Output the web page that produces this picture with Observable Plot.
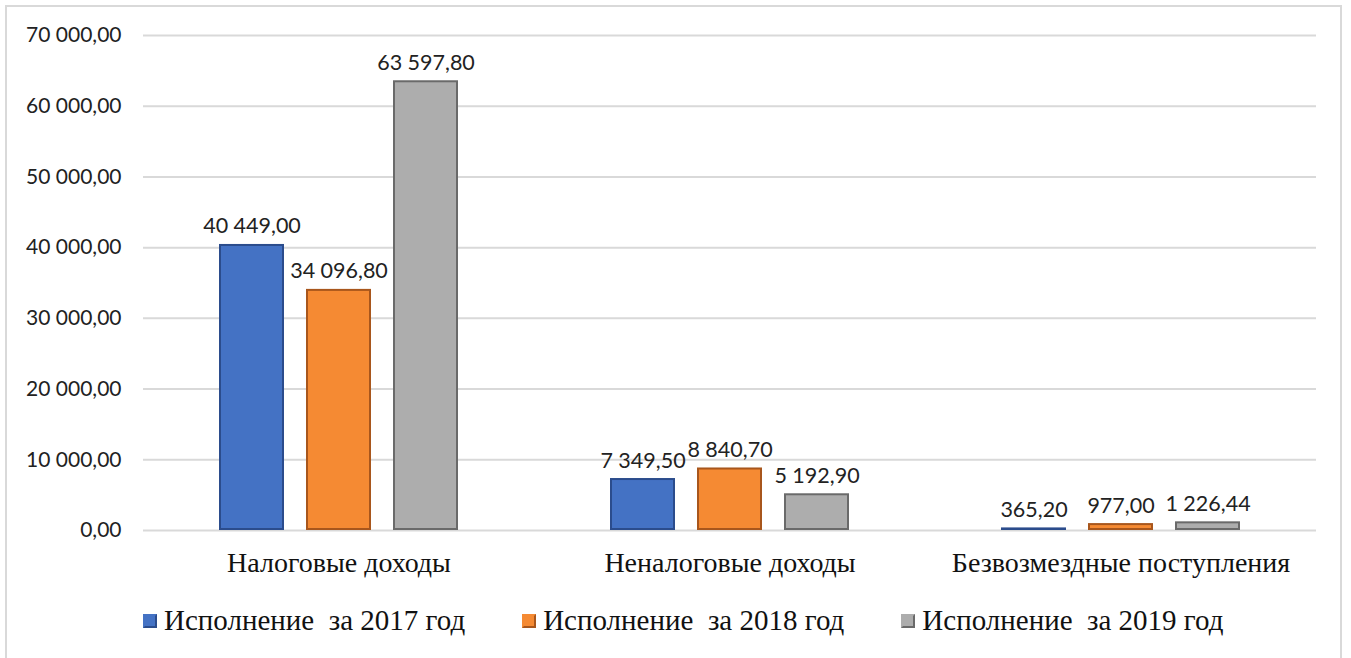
<!DOCTYPE html>
<html>
<head>
<meta charset="utf-8">
<script src="https://cdn.jsdelivr.net/npm/d3@7"></script>
<script src="https://cdn.jsdelivr.net/npm/@observablehq/plot@0.6"></script>
<style>
  html, body { margin: 0; padding: 0; background: #fff; }
  #wrap { position: relative; width: 1351px; height: 658px; overflow: hidden; }
  #frame { position: absolute; left: 5px; top: 5px; width: 1337px; height: 660px; border: 2px solid #d9d9d9; box-sizing: border-box; }
  #chart { position: absolute; left: 0; top: 0; }
  #legend { position: absolute; left: 143px; top: 604px; display: flex; gap: 57px; align-items: center;
            font-family: "Liberation Serif", "Times New Roman", serif; font-size: 29px; color: #111; white-space: pre; }
  .item { display: flex; align-items: center; gap: 7px; }
  .sw { width: 14px; height: 14px; box-sizing: border-box; border-style: solid; border-width: 2px; }
</style>
</head>
<body>
<div id="wrap">
  <div id="frame"></div>
  <div id="chart"></div>
  <div id="legend"></div>
</div>
<script>
const categories = ["Налоговые доходы", "Неналоговые доходы", "Безвозмездные поступления"];
const series = ["Исполнение  за 2017 год", "Исполнение  за 2018 год", "Исполнение  за 2019 год"];
const values2017 = [40449.00, 7349.50, 365.20];
const values2018 = [34096.80, 8840.70, 977.00];
const values2019 = [63597.80, 5192.90, 1226.44];
const yTicks = [0, 10000, 20000, 30000, 40000, 50000, 60000, 70000];
const colors = ["#4472C4", "#F58A33", "#ADADAD"];
const edges = ["#2B4C8C", "#A8561C", "#6A6A6A"];

const locale = d3.formatLocale({decimal: ",", thousands: "\u00a0", grouping: [3], currency: ["", ""]});
const fmt = locale.format(",.2f");

const seriesValues = [values2017, values2018, values2019];
const data = [];
categories.forEach((c, i) => {
  series.forEach((s, j) => data.push({cat: c, series: s, value: seriesValues[j][i]}));
});

const plot = Plot.plot({
  width: 1351,
  height: 590,
  marginLeft: 143,
  marginRight: 35,
  marginTop: 35,
  marginBottom: 60,
  fx: {domain: categories, padding: 0, label: null},
  x: {domain: series, paddingInner: 0.25, paddingOuter: 0.85, axis: null},
  y: {domain: [0, 70000], label: null},
  color: {domain: series, range: colors},
  style: {background: "transparent"},
  marks: [
    Plot.gridY(yTicks, {stroke: "#d9d9d9", strokeOpacity: 1, strokeWidth: 2}),
    Plot.barY(data, {fx: "cat", x: "series", y: "value", fill: "series",
      stroke: d => edges[series.indexOf(d.series)], strokeWidth: 2, inset: 1}),
    Plot.text(data, {fx: "cat", x: "series", y: "value", text: d => fmt(d.value),
      lineAnchor: "bottom", dy: -11, fontSize: 21.5, fontFamily: "Lato, sans-serif", fill: "#222"}),
    Plot.axisY(yTicks, {tickSize: 0, tickPadding: 22, tickFormat: fmt, fontSize: 21,
      fontFamily: "Lato, sans-serif", fill: "#222", label: null}),
    Plot.axisFx({anchor: "bottom", tickSize: 0, tickPadding: 22, label: null, fontSize: 28,
      fontFamily: "'Liberation Serif', 'Times New Roman', serif", fill: "#111"})
  ]
});
document.getElementById("chart").appendChild(plot);

const legend = document.getElementById("legend");
series.forEach((s, i) => {
  const item = document.createElement("div");
  item.className = "item";
  const sw = document.createElement("div");
  sw.className = "sw";
  sw.style.background = colors[i];
  sw.style.borderColor = `${colors[i]} ${edges[i]} ${edges[i]} ${colors[i]}`;
  const t = document.createElement("span");
  t.textContent = s;
  item.appendChild(sw);
  item.appendChild(t);
  legend.appendChild(item);
});
</script>
</body>
</html>
